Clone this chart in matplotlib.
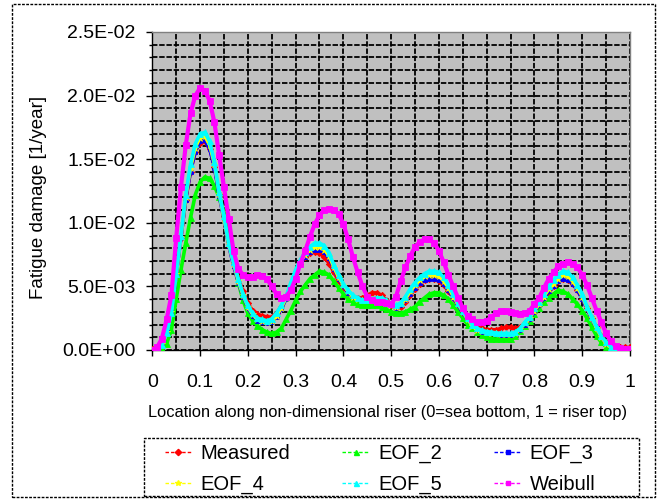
import numpy as np
import matplotlib
matplotlib.use("Agg")
import matplotlib.pyplot as plt
from matplotlib.patches import Rectangle
from matplotlib.lines import Line2D
from matplotlib.ticker import MultipleLocator, FuncFormatter

plt.rcParams['font.family'] = ['Liberation Sans', 'DejaVu Sans']

# ---- data (fatigue damage in units of 1e-3 1/year) ----
SCALE = 1e-3
location = np.linspace(0.0, 1.0, 101)

measured = [0.1, 0.2, 0.5, 1.4, 3.0, 5.9, 8.8, 11.8, 14.0, 15.6,
            16.3, 16.4, 15.8, 14.4, 12.3, 10.5, 8.6, 7.0, 5.7, 4.6,
            3.7, 3.1, 2.8, 2.7, 2.6, 2.6, 2.9, 3.4, 4.2, 5.1,
            6.1, 6.8, 7.3, 7.6, 7.7, 7.6, 7.3, 6.8, 6.1, 5.4,
            4.9, 4.5, 4.2, 4.1, 4.1, 4.3, 4.5, 4.5, 4.3, 3.9,
            3.5, 3.3, 3.4, 3.8, 4.3, 4.8, 5.2, 5.5, 5.6, 5.6,
            5.4, 5.1, 4.6, 4.1, 3.5, 2.9, 2.4, 2.0, 1.8, 1.7,
            1.6, 1.6, 1.6, 1.7, 1.8, 1.8, 1.7, 1.8, 2.1, 2.5,
            3.0, 3.5, 4.0, 4.5, 5.0, 5.4, 5.6, 5.5, 5.2, 4.7,
            4.0, 3.3, 2.5, 1.8, 1.1, 0.6, 0.3, 0.2, 0.2, 0.2,
            0.2]

eof_2 = [0.0, 0.0, 0.1, 0.5, 1.6, 4.0, 6.3, 8.4, 10.4, 12.2,
         13.2, 13.6, 13.5, 12.9, 12.0, 10.8, 8.9, 7.1, 5.3, 3.9,
         2.9, 2.3, 1.9, 1.6, 1.4, 1.3, 1.4, 1.7, 2.4, 3.1,
         3.9, 4.6, 5.1, 5.6, 5.9, 6.2, 6.1, 5.9, 5.4, 4.9,
         4.4, 4.0, 3.8, 3.6, 3.5, 3.5, 3.5, 3.5, 3.4, 3.2,
         3.0, 2.9, 2.9, 3.0, 3.2, 3.4, 3.8, 4.1, 4.4, 4.5,
         4.5, 4.3, 4.0, 3.5, 3.0, 2.5, 2.0, 1.7, 1.4, 1.2,
         1.0, 0.9, 0.85, 0.85, 0.85, 0.9, 1.1, 1.5, 1.9, 2.3,
         2.8, 3.3, 3.8, 4.1, 4.4, 4.7, 4.6, 4.4, 4.0, 3.6,
         3.1, 2.5, 1.8, 1.1, 0.6, 0.25, 0.1, 0.05, 0.0, 0.0,
         0.0]

eof_3 = [0.0, 0.1, 0.5, 1.4, 3.0, 5.9, 8.8, 11.8, 14.0, 15.6,
         16.4, 16.5, 15.8, 14.3, 12.1, 10.2, 8.2, 6.6, 5.3, 4.2,
         3.3, 2.7, 2.3, 2.2, 2.1, 2.2, 2.6, 3.2, 4.0, 5.0,
         6.0, 6.8, 7.3, 7.7, 7.9, 7.9, 7.7, 7.2, 6.4, 5.6,
         5.0, 4.5, 4.2, 4.0, 3.9, 3.9, 4.0, 4.1, 4.0, 3.8,
         3.5, 3.3, 3.5, 3.9, 4.4, 4.9, 5.3, 5.5, 5.6, 5.6,
         5.5, 5.2, 4.7, 4.1, 3.5, 2.9, 2.4, 1.9, 1.6, 1.45,
         1.35, 1.3, 1.25, 1.2, 1.2, 1.2, 1.3, 1.6, 2.0, 2.4,
         3.0, 3.5, 4.1, 4.6, 5.0, 5.4, 5.6, 5.5, 5.2, 4.7,
         4.0, 3.2, 2.4, 1.7, 1.0, 0.5, 0.2, 0.1, 0.05, 0.05,
         0.05]

eof_4 = [0.0, 0.1, 0.5, 1.4, 3.0, 6.0, 8.9, 12.0, 14.3, 15.9,
         16.7, 16.8, 16.1, 14.6, 12.3, 10.3, 8.3, 6.8, 5.4, 4.3,
         3.4, 2.8, 2.4, 2.3, 2.2, 2.3, 2.7, 3.3, 4.1, 5.1,
         6.1, 6.9, 7.5, 7.9, 8.1, 8.1, 7.9, 7.4, 6.5, 5.7,
         5.1, 4.6, 4.2, 4.0, 3.9, 3.9, 4.0, 4.1, 4.0, 3.8,
         3.5, 3.4, 3.6, 4.0, 4.6, 5.1, 5.5, 5.8, 5.9, 5.9,
         5.8, 5.4, 4.9, 4.2, 3.6, 3.0, 2.4, 1.9, 1.6, 1.5,
         1.4, 1.35, 1.3, 1.25, 1.25, 1.25, 1.35, 1.65, 2.1, 2.5,
         3.1, 3.6, 4.2, 4.8, 5.2, 5.6, 5.9, 5.8, 5.4, 4.9,
         4.2, 3.3, 2.5, 1.7, 1.0, 0.5, 0.2, 0.1, 0.05, 0.05,
         0.05]

eof_5 = [0.0, 0.1, 0.4, 1.3, 2.9, 6.0, 9.0, 12.2, 14.6, 16.2,
         17.0, 17.1, 16.4, 14.8, 12.4, 10.5, 8.4, 6.9, 5.6, 4.4,
         3.5, 2.9, 2.5, 2.4, 2.3, 2.45, 2.9, 3.5, 4.2, 5.3,
         6.3, 7.1, 7.7, 8.1, 8.4, 8.4, 8.2, 7.6, 6.7, 5.9,
         5.2, 4.7, 4.3, 4.1, 3.9, 3.9, 4.0, 4.1, 4.1, 3.9,
         3.6, 3.5, 3.7, 4.2, 4.8, 5.3, 5.7, 6.0, 6.2, 6.2,
         6.1, 5.7, 5.1, 4.4, 3.7, 3.1, 2.5, 2.0, 1.7, 1.55,
         1.45, 1.4, 1.35, 1.3, 1.3, 1.3, 1.4, 1.7, 2.2, 2.6,
         3.3, 3.8, 4.4, 5.0, 5.5, 5.9, 6.2, 6.1, 5.7, 5.1,
         4.4, 3.4, 2.6, 1.8, 1.1, 0.6, 0.25, 0.1, 0.1, 0.1,
         0.1]

weibull = [0.0, 0.2, 0.9, 2.4, 4.3, 8.8, 12.8, 16.1, 18.6, 20.0,
           20.6, 20.4, 19.6, 17.9, 15.3, 12.8, 10.3, 7.8, 6.4, 5.9,
           5.7, 5.7, 5.9, 5.8, 5.6, 5.0, 4.4, 4.1, 4.2, 4.7,
           5.6, 6.8, 7.8, 8.9, 9.9, 10.6, 11.0, 11.1, 11.0, 10.7,
           9.9, 8.7, 7.3, 6.1, 5.0, 4.2, 3.9, 3.8, 3.8, 3.7,
           3.6, 4.2, 5.4, 6.5, 7.4, 8.1, 8.5, 8.7, 8.7, 8.4,
           7.8, 6.9, 5.9, 5.0, 4.1, 3.3, 2.7, 2.4, 2.2, 2.2,
           2.3, 2.6, 2.9, 3.1, 3.1, 3.0, 2.9, 2.8, 2.9, 3.1,
           3.6, 4.1, 4.9, 5.6, 6.1, 6.6, 6.8, 6.9, 6.8, 6.5,
           5.9, 5.1, 4.1, 3.1, 2.2, 1.3, 0.7, 0.3, 0.15, 0.1,
           0.1]

series_names = ["Measured", "EOF_2", "EOF_3", "EOF_4", "EOF_5", "Weibull"]
series_values = [measured, eof_2, eof_3, eof_4, eof_5, weibull]
series_colors = ["#FF0000", "#00FF00", "#0000FF", "#FFFF00", "#00FFFF", "#FF00FF"]
series_markers = ["D", "^", "s", "*", "^", "s"]
series_msize = [3.2, 4.0, 3.2, 4.5, 4.0, 4.2]
series_lw = [2.4, 2.6, 2.4, 2.4, 2.6, 3.0]
legend_msize = [3.2, 3.6, 3.0, 4.0, 3.6, 3.4]

y_ticks = [0.0, 0.005, 0.010, 0.015, 0.020, 0.025]
x_ticks = [0, 0.1, 0.2, 0.3, 0.4, 0.5, 0.6, 0.7, 0.8, 0.9, 1]
x_tick_labels = ["0", "0.1", "0.2", "0.3", "0.4", "0.5", "0.6", "0.7", "0.8", "0.9", "1"]

W, H = 665, 499
fig = plt.figure(figsize=(W / 100, H / 100), dpi=100)
fig.patch.set_facecolor("white")

L, R, T, B = 152.3, 630.0, 32.0, 350.0
ax = fig.add_axes([L / W, 1 - B / H, (R - L) / W, (B - T) / H])
ax.set_facecolor("#C0C0C0")

proxies = []
for name, vals, col, mk, ms, lw, lms in zip(series_names, series_values, series_colors,
                                            series_markers, series_msize, series_lw,
                                            legend_msize):
    ax.plot(location, np.array(vals) * SCALE, color=col, linestyle="-",
            linewidth=lw, marker=mk, markersize=ms, markeredgewidth=0.6,
            markerfacecolor=col, markeredgecolor=col, label=name, zorder=3,
            solid_joinstyle="round", solid_capstyle="round")
    proxies.append(Line2D([], [], color=col, linestyle=(0, (2.5, 1.5)), linewidth=1.0,
                          marker=mk, markersize=lms, markerfacecolor=col,
                          markeredgecolor=col))

ax.set_xlim(0, 1)
ax.set_ylim(0, 0.025)
ax.set_xticks(x_ticks)
ax.set_xticklabels(x_tick_labels)
ax.set_yticks(y_ticks)
ax.yaxis.set_major_formatter(FuncFormatter(lambda v, p: f"{v:.1E}"))
ax.xaxis.set_minor_locator(MultipleLocator(0.05))
ax.yaxis.set_minor_locator(MultipleLocator(0.001))

ax.set_axisbelow(True)
ax.grid(which="both", color="black", linestyle=(0, (3, 1)), linewidth=1.3, zorder=1)

ax.tick_params(axis="both", which="major", direction="out", length=4, width=1,
               labelsize=14, color="black")
ax.tick_params(axis="x", which="minor", length=0)
ax.tick_params(axis="y", which="minor", direction="out", length=2, width=1)
ax.tick_params(axis="x", pad=13)
ax.tick_params(axis="y", pad=8)

for s in ["left", "bottom"]:
    ax.spines[s].set_color("black")
    ax.spines[s].set_linewidth(1.0)
for s in ["top", "right"]:
    ax.spines[s].set_color("#808080")
    ax.spines[s].set_linestyle((0, (3, 1)))
    ax.spines[s].set_linewidth(1.0)

fig.text(38.5 / W, 1 - 197 / H, "Fatigue damage [1/year]", rotation=90,
         ha="center", va="center", fontsize=13.5)
fig.text(388 / W, 1 - 412 / H,
         "Location along non-dimensional riser (0=sea bottom, 1 = riser top)",
         ha="center", va="center", fontsize=11.8)

# legend frame
fig.patches.append(Rectangle((144 / W, 1 - 496 / H), (639 - 144) / W, (496 - 438) / H,
                             transform=fig.transFigure, fill=False, edgecolor="black",
                             linestyle=(0, (2, 1)), linewidth=1.0))
# outer border
fig.patches.append(Rectangle((12 / W, 1 - 497 / H), (655 - 12) / W, (497 - 4) / H,
                             transform=fig.transFigure, fill=False, edgecolor="black",
                             linestyle=(0, (2, 1)), linewidth=1.0))

# row-wise legend order: matplotlib fills columns first
order = [0, 3, 1, 4, 2, 5]
fig.legend([proxies[i] for i in order], [series_names[i] for i in order],
           loc="center", bbox_to_anchor=(380 / W, 1 - 469 / H),
           ncol=3, frameon=False, fontsize=14.5, handlelength=1.35,
           handletextpad=0.42, columnspacing=2.6, labelspacing=0.6,
           borderpad=0.0, borderaxespad=0.0)

fig.savefig("out.png", dpi=100)
